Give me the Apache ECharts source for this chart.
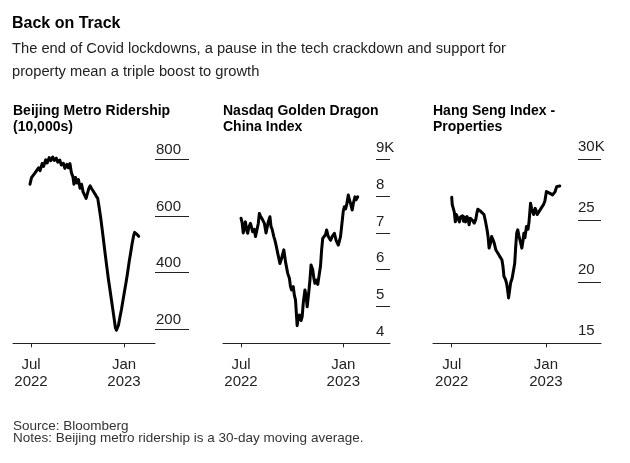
<!DOCTYPE html>
<html><head><meta charset="utf-8">
<script src="https://cdn.jsdelivr.net/npm/echarts@6/dist/echarts.min.js"></script>
<style>html,body{margin:0;padding:0;background:#fff}#c{width:630px;height:463px}</style>
</head><body><div id="c"></div>
<script>
// ---------- data ----------
const xTickDates = ['2022-07-01', '2023-01-01'];
const xTickLabels = ['Jul\n2022', 'Jan\n2023'];

const metroDates = ['2022-06-29','2022-07-02','2022-07-05','2022-07-09','2022-07-12','2022-07-16','2022-07-19','2022-07-23','2022-07-26','2022-07-30','2022-08-02','2022-08-06','2022-08-09','2022-08-13','2022-08-16','2022-08-20','2022-08-23','2022-08-27','2022-08-30','2022-09-03','2022-09-06','2022-09-10','2022-09-13','2022-09-16','2022-09-19','2022-09-22','2022-09-24','2022-09-27','2022-09-30','2022-10-03','2022-10-06','2022-10-09','2022-10-12','2022-10-15','2022-10-18','2022-10-20','2022-10-23','2022-10-26','2022-10-29','2022-11-01','2022-11-04','2022-11-07','2022-11-10','2022-11-13','2022-11-16','2022-11-19','2022-11-22','2022-11-25','2022-11-28','2022-12-01','2022-12-04','2022-12-07','2022-12-10','2022-12-13','2022-12-15','2022-12-17','2022-12-19','2022-12-21','2022-12-24','2022-12-27','2022-12-30','2023-01-02','2023-01-05','2023-01-08','2023-01-11','2023-01-14','2023-01-17','2023-01-20','2023-01-22','2023-01-24','2023-01-26','2023-01-28','2023-01-30'];
const metroValues = [712,735,728,752,745,770,760,785,775,798,787,806,795,808,796,804,790,797,780,786,768,782,770,785,752,738,712,736,716,728,698,712,685,692,662,656,695,706,696,688,695,670,662,628,592,550,506,462,420,378,342,305,268,230,205,196,199,214,243,270,302,334,365,398,436,468,502,530,542,538,536,530,528];
const metroTicks = [200, 400, 600, 800];
const metroTickLabels = ['200', '400', '600', '800'];

const dragonDates = ['2022-07-01','2022-07-03','2022-07-05','2022-07-07','2022-07-09','2022-07-11','2022-07-13','2022-07-15','2022-07-18','2022-07-20','2022-07-22','2022-07-25','2022-07-27','2022-07-29','2022-08-01','2022-08-03','2022-08-05','2022-08-08','2022-08-10','2022-08-12','2022-08-15','2022-08-17','2022-08-19','2022-08-22','2022-08-24','2022-08-26','2022-08-29','2022-08-31','2022-09-02','2022-09-05','2022-09-07','2022-09-09','2022-09-12','2022-09-14','2022-09-16','2022-09-19','2022-09-21','2022-09-23','2022-09-26','2022-09-28','2022-09-30','2022-10-03','2022-10-05','2022-10-07','2022-10-10','2022-10-12','2022-10-14','2022-10-17','2022-10-19','2022-10-21','2022-10-24','2022-10-26','2022-10-28','2022-10-31','2022-11-02','2022-11-04','2022-11-07','2022-11-09','2022-11-11','2022-11-14','2022-11-16','2022-11-18','2022-11-21','2022-11-23','2022-11-25','2022-11-28','2022-11-30','2022-12-02','2022-12-05','2022-12-07','2022-12-09','2022-12-12','2022-12-14','2022-12-16','2022-12-19','2022-12-21','2022-12-23','2022-12-27','2022-12-29','2023-01-01','2023-01-03','2023-01-05','2023-01-07','2023-01-10','2023-01-12','2023-01-14','2023-01-17','2023-01-19','2023-01-22','2023-01-24','2023-01-27'];
const dragonValues = [7.40,7.28,7.00,7.18,7.30,7.08,6.99,7.15,7.26,7.15,7.03,7.10,6.90,6.95,7.25,7.53,7.45,7.38,7.42,7.26,7.00,7.05,7.30,7.44,7.17,7.10,6.90,6.80,6.67,6.45,6.40,6.17,6.31,6.35,6.54,6.22,6.17,5.90,5.77,5.54,5.45,5.54,5.30,5.18,4.48,4.70,4.77,4.62,4.72,5.10,5.45,5.30,4.99,5.40,5.72,6.13,6.00,5.77,5.63,5.72,5.60,5.63,6.10,6.54,6.85,6.80,6.95,7.08,6.90,6.85,6.80,6.90,6.85,6.99,6.80,6.76,6.67,6.90,6.85,7.60,7.71,7.65,7.76,8.03,7.90,7.80,7.62,7.80,7.98,7.90,7.98];
const dragonTicks = [4, 5, 6, 7, 8, 9];
const dragonTickLabels = ['4', '5', '6', '7', '8', '9K'];

const hsiDates = ['2022-07-01','2022-07-02','2022-07-04','2022-07-06','2022-07-08','2022-07-10','2022-07-12','2022-07-14','2022-07-16','2022-07-18','2022-07-20','2022-07-22','2022-07-24','2022-07-26','2022-07-28','2022-07-31','2022-08-02','2022-08-04','2022-08-06','2022-08-09','2022-08-11','2022-08-14','2022-08-17','2022-08-19','2022-08-21','2022-08-24','2022-08-27','2022-08-30','2022-09-02','2022-09-05','2022-09-08','2022-09-10','2022-09-12','2022-09-15','2022-09-17','2022-09-20','2022-09-22','2022-09-25','2022-09-28','2022-10-01','2022-10-04','2022-10-07','2022-10-09','2022-10-11','2022-10-14','2022-10-16','2022-10-18','2022-10-20','2022-10-22','2022-10-24','2022-10-27','2022-10-30','2022-11-01','2022-11-03','2022-11-05','2022-11-07','2022-11-09','2022-11-12','2022-11-15','2022-11-17','2022-11-19','2022-11-21','2022-11-24','2022-11-27','2022-11-29','2022-12-02','2022-12-04','2022-12-06','2022-12-08','2022-12-11','2022-12-13','2022-12-15','2022-12-18','2022-12-21','2022-12-24','2022-12-27','2022-12-30','2023-01-02','2023-01-05','2023-01-08','2023-01-11','2023-01-14','2023-01-17','2023-01-19','2023-01-22','2023-01-25','2023-01-28'];
const hsiValues = [26.9,26.3,26.0,25.7,24.9,25.5,25.3,25.4,24.9,25.3,25.2,25.4,24.95,25.3,24.9,25.33,25.1,24.66,25.2,25.33,25.0,24.8,25.1,25.6,25.93,25.95,25.74,25.8,25.5,24.93,24.25,23.7,22.76,23.2,23.71,23.4,23.17,22.63,22.49,22.22,22.0,21.81,21.3,20.45,20.2,19.92,19.4,18.7,19.3,19.92,20.3,20.45,21.5,22.9,24.0,24.25,23.8,23.3,22.76,23.3,23.98,23.6,24.52,24.3,24.9,26.42,26.0,25.74,25.5,26.0,25.8,25.5,25.6,25.9,26.1,26.28,26.6,27.37,27.5,27.24,27.4,27.1,27.2,27.37,27.77,27.75,27.83];
const hsiTicks = [15, 20, 25, 30];
const hsiTickLabels = ['15', '20', '25', '30K'];

// ---------- layout ----------
const DAY = 86400000;
const jul1 = Date.parse(xTickDates[0]);
const jan1 = Date.parse(xTickDates[1]);
const xTickTimes = xTickDates.map(d => Date.parse(d));
const FONT = '"Liberation Sans", Arial, Helvetica, sans-serif';
const INK = '#222';

const panels = [
  { title: 'Beijing Metro Ridership\n(10,000s)', dates: metroDates, values: metroValues, ticks: metroTicks, tickLabels: metroTickLabels,
    left: 13, width: 142, xMin: jul1 - 35.6 * DAY, xMax: jan1 + 61.3 * DAY, yMin: 150, yMax: 800, inside: false, tickLen: 34, labelMargin: 1, padB: 2 },
  { title: 'Nasdaq Golden Dragon\nChina Index', dates: dragonDates, values: dragonValues, ticks: dragonTicks, tickLabels: dragonTickLabels,
    left: 223, width: 167, xMin: jul1 - 32.4 * DAY, xMax: jan1 + 84 * DAY, yMin: 4, yMax: 9, inside: true, tickLen: 14, labelMargin: 14, padB: 4 },
  { title: 'Hang Seng Index -\nProperties', dates: hsiDates, values: hsiValues, ticks: hsiTicks, tickLabels: hsiTickLabels,
    left: 433, width: 168, xMin: jul1 - 36.6 * DAY, xMax: jan1 + 107.6 * DAY, yMin: 15, yMax: 30, inside: true, tickLen: 23, labelMargin: 23, padB: 5 }
];

const titles = [
  { text: 'Back on Track', left: 12, top: 14, padding: 0, textStyle: { fontFamily: FONT, fontSize: 16, fontWeight: 'bold', color: '#000', lineHeight: 20 } },
  { text: 'The end of Covid lockdowns, a pause in the tech crackdown and support for\nproperty mean a triple boost to growth', left: 12, top: 37, padding: 0,
    textStyle: { fontFamily: FONT, fontSize: 14.7, fontWeight: 'normal', color: '#222', lineHeight: 23 } },
  { text: 'Source: Bloomberg\nNotes: Beijing metro ridership is a 30-day moving average.', left: 13, top: 420, padding: 0,
    textStyle: { fontFamily: FONT, fontSize: 13.5, fontWeight: 'normal', color: '#333', lineHeight: 12 } }
];
const grids = [], xAxes = [], yAxes = [], series = [];
panels.forEach((p, i) => {
  titles.push({ text: p.title, left: p.left, top: 103, padding: 0,
    textStyle: { fontFamily: FONT, fontSize: 14, fontWeight: 'bold', color: '#000', lineHeight: 16 } });
  grids.push({ left: p.left, width: p.width, top: 159.3, height: 184 });
  xAxes.push({
    type: 'value', gridIndex: i, min: p.xMin, max: p.xMax,
    axisLine: { show: true, lineStyle: { color: INK, width: 1 } },
    axisTick: { show: true, customValues: xTickTimes, length: 4, lineStyle: { color: INK } },
    axisLabel: { customValues: xTickTimes, margin: 13, fontFamily: FONT, fontSize: 15, lineHeight: 17, color: INK,
      formatter: v => { const k = xTickTimes.indexOf(v); return k >= 0 ? xTickLabels[k] : ''; } },
    splitLine: { show: false }
  });
  yAxes.push({
    type: 'value', gridIndex: i, position: 'right', min: p.yMin, max: p.yMax,
    axisLine: { show: false },
    axisTick: { show: true, inside: p.inside, length: p.tickLen, customValues: p.ticks, lineStyle: { color: INK, width: 1 } },
    axisLabel: { customValues: p.ticks, inside: p.inside, margin: p.labelMargin, align: 'left', verticalAlign: 'bottom',
      padding: [0, 0, p.padB, 0], fontFamily: FONT, fontSize: 15, lineHeight: 15, color: INK,
      formatter: v => { const k = p.ticks.indexOf(v); return k >= 0 ? p.tickLabels[k] : ''; } },
    splitLine: { show: false }
  });
  series.push({
    type: 'line', xAxisIndex: i, yAxisIndex: i, showSymbol: false, clip: false, animation: false,
    lineStyle: { color: '#000', width: 3, join: 'round', cap: 'round' },
    data: p.dates.map((d, k) => [Date.parse(d), p.values[k]])
  });
});

const chart = echarts.init(document.getElementById('c'), null, { renderer: 'canvas' });
chart.setOption({ animation: false, backgroundColor: '#fff', title: titles, grid: grids, xAxis: xAxes, yAxis: yAxes, series: series });
</script></body></html>
